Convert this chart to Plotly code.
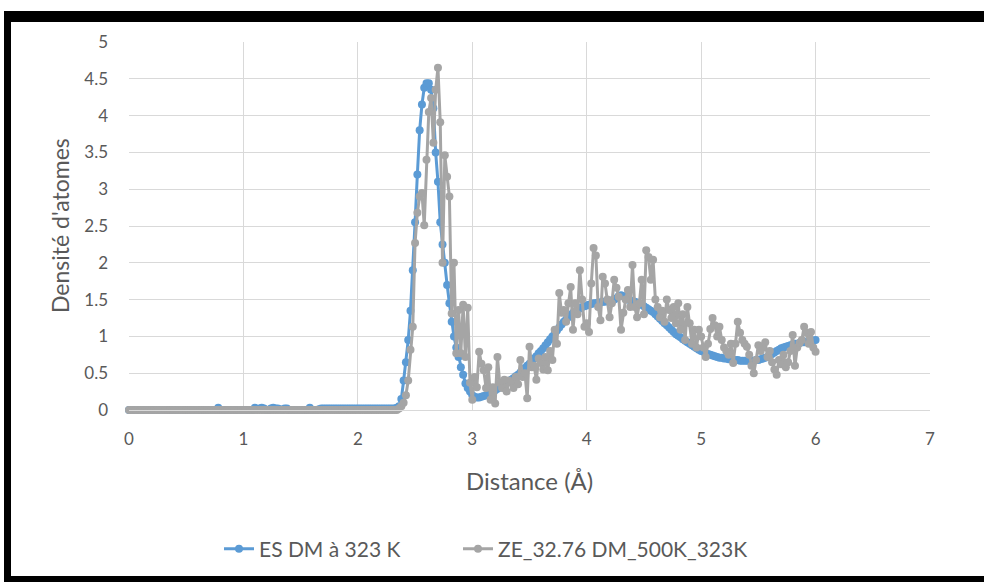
import plotly.graph_objects as go

# ---------------- data ----------------
# distance grid (Å), step 0.02 from 0 to 6
distance = [round(0.02 * i, 2) for i in range(301)]

# ES DM à 323 K
es_y = (
    # 0.00 - 0.76
    [0, 0, 0, 0, 0, 0, 0, 0, 0, 0, 0, 0, 0, 0, 0, 0, 0, 0, 0, 0,
     0, 0, 0, 0, 0, 0, 0, 0, 0, 0, 0, 0, 0, 0, 0, 0, 0, 0, 0]
    # 0.78
    + [0.03]
    # 0.80 - 1.08
    + [0, 0, 0, 0, 0, 0, 0, 0, 0, 0, 0, 0, 0, 0, 0]
    # 1.10 - 1.40
    + [0.03, 0.01, 0.02, 0.03, 0.02, 0, 0, 0.02, 0.03, 0.02, 0.02, 0.01, 0, 0.02, 0.02, 0]
    # 1.42 - 1.56
    + [0, 0, 0, 0, 0, 0, 0, 0]
    # 1.58 - 1.68
    + [0.03, 0, 0, 0, 0.01, 0.02]
    # 1.70 - 2.30
    + [0.02, 0.02, 0.02, 0.02, 0.02, 0.02, 0.02, 0.02, 0.02, 0.02, 0.02,
       0.02, 0.02, 0.02, 0.02, 0.02, 0.02, 0.02, 0.02, 0.02, 0.02,
       0.02, 0.02, 0.02, 0.02, 0.02, 0.02, 0.02, 0.02, 0.02, 0.02]
    # 2.32 - 2.98
    + [0.02, 0.03, 0.05, 0.15, 0.4, 0.65, 0.95, 1.35, 1.9, 2.55,
       3.2, 3.8, 4.15, 4.38, 4.44, 4.44, 4.35, 4.1, 3.5, 3.1,
       2.55, 2.25, 2.0, 1.7, 1.45, 1.2, 1.0, 0.85, 0.72, 0.58,
       0.48, 0.36, 0.3, 0.25]
    # 3.00 - 3.98
    + [0.2, 0.18, 0.17, 0.17, 0.18, 0.19, 0.2, 0.21, 0.23, 0.25,
       0.27, 0.29, 0.31, 0.33, 0.35, 0.37, 0.39, 0.41, 0.43, 0.46,
       0.48, 0.51, 0.54, 0.57, 0.6, 0.63, 0.66, 0.7, 0.73, 0.77,
       0.8, 0.84, 0.88, 0.92, 0.96, 1.0, 1.04, 1.08, 1.12, 1.16,
       1.2, 1.23, 1.26, 1.29, 1.32, 1.34, 1.36, 1.38, 1.4, 1.41]
    # 4.00 - 6.00
    + [1.42, 1.43, 1.44, 1.45, 1.45, 1.46, 1.46, 1.47, 1.47, 1.48,
       1.48, 1.49, 1.5, 1.52, 1.55, 1.56, 1.55, 1.52, 1.5, 1.49,
       1.48, 1.47, 1.46, 1.45, 1.43, 1.41, 1.39, 1.37, 1.35, 1.33,
       1.3, 1.27, 1.24, 1.21, 1.18, 1.15, 1.12, 1.09, 1.06, 1.03,
       1.01, 0.99, 0.96, 0.94, 0.92, 0.9, 0.88, 0.86, 0.84, 0.82,
       0.8, 0.79, 0.77, 0.76, 0.75, 0.74, 0.73, 0.72, 0.71, 0.71,
       0.7, 0.7, 0.69, 0.69, 0.68, 0.68, 0.68, 0.67, 0.67, 0.67,
       0.67, 0.67, 0.67, 0.67, 0.68, 0.68, 0.69, 0.7, 0.71, 0.72,
       0.74, 0.76, 0.78, 0.8, 0.82, 0.84, 0.85, 0.86, 0.87, 0.88,
       0.89, 0.9, 0.9, 0.91, 0.92, 0.92, 0.93, 0.93, 0.94, 0.94,
       0.95]
)

# ZE_32.76 DM_500K_323K
ze_y = (
    # 0.00 - 2.30
    [0, 0, 0, 0, 0, 0, 0, 0, 0, 0, 0, 0, 0, 0, 0, 0, 0, 0, 0, 0,
     0, 0, 0, 0, 0, 0, 0, 0, 0, 0, 0, 0, 0, 0, 0, 0, 0, 0, 0, 0,
     0, 0, 0, 0, 0, 0, 0, 0, 0, 0, 0, 0, 0, 0, 0, 0, 0, 0, 0, 0,
     0, 0, 0, 0, 0, 0, 0, 0, 0, 0, 0, 0, 0, 0, 0, 0, 0, 0, 0, 0,
     0, 0, 0, 0, 0, 0, 0, 0, 0, 0, 0, 0, 0, 0, 0, 0, 0, 0, 0, 0,
     0, 0, 0, 0, 0, 0, 0, 0, 0, 0, 0, 0, 0, 0, 0, 0]
    # 2.32 - 2.98
    + [0, 0, 0.02, 0.05, 0.1, 0.2, 0.4, 0.82, 1.13, 2.27,
       2.68, 2.9, 2.95, 2.51, 3.4, 4.05, 4.24, 3.63, 4.35, 4.65,
       3.91, 2.0, 3.46, 3.17, 2.9, 1.31, 2.0, 0.77, 1.36, 0.77,
       1.43, 0.72, 1.39, 0.37]
    # 3.00 - 3.98
    + [0.14, 0.45, 0.31, 0.79, 0.63, 0.54, 0.3, 0.58, 0.14, 0.31,
       0.09, 0.72, 0.37, 0.3, 0.41, 0.25, 0.4, 0.37, 0.3, 0.45,
       0.35, 0.68, 0.45, 0.5, 0.16, 0.86, 0.58, 0.6, 0.41, 0.7,
       0.64, 0.55, 0.72, 0.54, 0.8, 0.68, 1.09, 0.9, 1.59, 1.32,
       1.36, 1.2, 1.45, 1.67, 1.09, 1.45, 1.3, 1.9, 1.5, 1.13]
    # 4.00 - 6.00
    + [1.18, 1.06, 1.72, 2.2, 2.1, 1.4, 1.22, 1.81, 1.72, 1.5,
       1.26, 1.45, 1.77, 1.66, 1.54, 1.09, 1.32, 1.5, 1.63, 1.4,
       1.97, 1.4, 1.26, 1.45, 1.77, 1.3, 2.17, 2.08, 1.77, 2.04,
       1.5, 1.4, 1.26, 1.35, 1.2, 1.5, 1.36, 1.25, 1.4, 1.18,
       1.45, 1.09, 1.3, 0.95, 1.4, 1.18, 0.9, 1.09, 0.85, 1.09,
       1.0, 0.85, 0.72, 0.9, 1.1, 1.25, 1.15, 1.0, 1.13, 0.95,
       0.85, 0.8, 0.75, 0.9, 0.64, 0.9, 1.2, 1.05, 0.95, 0.9,
       0.86, 0.75, 0.6, 0.5, 0.68, 0.88, 0.8, 0.85, 0.92, 0.72,
       0.8, 0.65, 0.55, 0.48, 0.68, 0.62, 0.75, 0.58, 0.65, 0.8,
       1.02, 0.6, 0.85, 0.91, 0.95, 1.13, 1.05, 0.9, 1.06, 0.85,
       0.79]
)

assert len(es_y) == len(distance) == len(ze_y)

series_names = ["ES DM à 323 K", "ZE_32.76 DM_500K_323K"]
x_ticks = [0, 1, 2, 3, 4, 5, 6, 7]
y_ticks = [0, 0.5, 1, 1.5, 2, 2.5, 3, 3.5, 4, 4.5, 5]
y_tick_text = ["0", "0.5", "1", "1.5", "2", "2.5", "3", "3.5", "4", "4.5", "5"]

# ---------------- layout geometry ----------------
W, H = 984, 582
L, R, T, B = 129, 54, 42, 172
PW, PH = W - L - R, H - T - B


def px(xp):
    return (xp - L) / PW


def py(yp):
    return (H - B - yp) / PH


FONT = "Lato, 'Open Sans', sans-serif"
TXT = "#595959"
GRID = "#D9D9D9"

fig = go.Figure()
fig.add_trace(go.Scatter(
    x=distance, y=es_y, name=series_names[0], mode="lines+markers",
    line=dict(color="#5B9BD5", width=3),
    marker=dict(color="#5B9BD5", size=8),
    cliponaxis=False, legend="legend",
))
fig.add_trace(go.Scatter(
    x=distance, y=ze_y, name=series_names[1], mode="lines+markers",
    line=dict(color="#A5A5A5", width=3),
    marker=dict(color="#A5A5A5", size=8),
    cliponaxis=False, legend="legend2",
))

black = "#000000"
shapes = [
    dict(type="rect", xref="paper", yref="paper", x0=px(4), x1=px(990), y0=py(22), y1=py(11),
         fillcolor=black, line=dict(width=0), layer="above"),
    dict(type="rect", xref="paper", yref="paper", x0=px(4), x1=px(11), y0=py(590), y1=py(11),
         fillcolor=black, line=dict(width=0), layer="above"),
    dict(type="rect", xref="paper", yref="paper", x0=px(4), x1=px(990), y0=py(590), y1=py(576),
         fillcolor=black, line=dict(width=0), layer="above"),
]

legend_common = dict(orientation="h", yanchor="middle", xanchor="left",
                     font=dict(family=FONT, size=21, color=TXT),
                     bgcolor="rgba(0,0,0,0)")

fig.update_layout(
    width=W, height=H,
    margin=dict(l=L, r=R, t=T, b=B, autoexpand=False),
    paper_bgcolor="white", plot_bgcolor="white",
    font=dict(family=FONT, color=TXT, size=17),
    showlegend=True,
    legend=dict(x=px(219), y=py(549), **legend_common),
    legend2=dict(x=px(458), y=py(549), **legend_common),
    shapes=shapes,
    annotations=[
        dict(text="Distance (Å)", xref="paper", yref="paper", x=0.5, y=py(481),
             showarrow=False, font=dict(family=FONT, size=24, color=TXT),
             xanchor="center", yanchor="middle"),
        dict(text="Densité d'atomes", xref="paper", yref="paper", x=px(60), y=0.5,
             showarrow=False, textangle=-90, font=dict(family=FONT, size=23, color=TXT),
             xanchor="center", yanchor="middle"),
    ],
)
fig.update_xaxes(range=[0, 7], tickvals=x_ticks, showgrid=True, gridcolor=GRID, gridwidth=1,
                 zeroline=False, showline=True, linecolor=GRID, linewidth=1, mirror=False,
                 ticks="", ticklabelstandoff=14, tickfont=dict(size=17, color=TXT, family=FONT),
                 fixedrange=True)
fig.update_yaxes(range=[0, 5], tickvals=y_ticks, ticktext=y_tick_text, showgrid=True,
                 gridcolor=GRID, gridwidth=1, zeroline=False, showline=False,
                 ticks="", ticklabelstandoff=20, tickfont=dict(size=17, color=TXT, family=FONT),
                 fixedrange=True)

fig.write_html("out.html", config={"displayModeBar": False},
               post_script="document.body.style.margin='0';document.body.style.overflow='hidden';")
